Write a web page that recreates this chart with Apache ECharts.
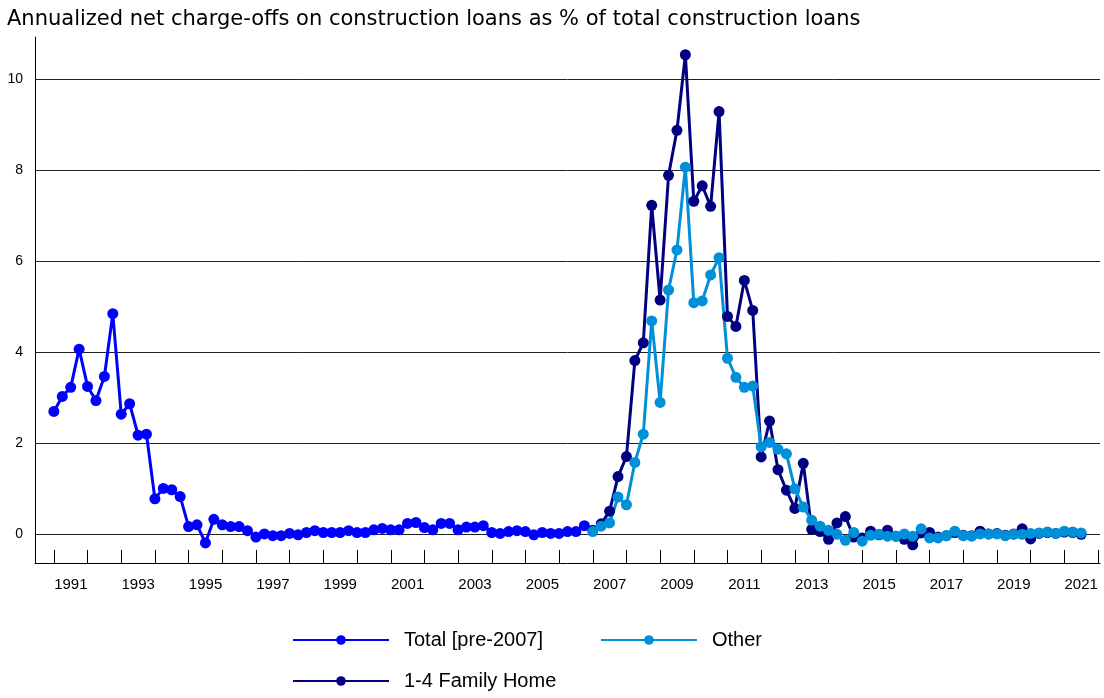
<!DOCTYPE html>
<html>
<head>
<meta charset="utf-8">
<script src="https://cdn.jsdelivr.net/npm/echarts@6/dist/echarts.min.js"></script>
<style>
  html, body { margin: 0; padding: 0; background: #fff; }
  #chart { width: 1104px; height: 698px; }
</style>
</head>
<body>
<div id="chart"></div>
<script>
// Quarterly net charge-off rates, first quarter of 1991 onward
const titleText = 'Annualized net charge-offs on construction loans as % of total construction loans';
const firstYear = 1991;
const yearLabels = ['1991','1992','1993','1994','1995','1996','1997','1998','1999','2000',
  '2001','2002','2003','2004','2005','2006','2007','2008','2009','2010',
  '2011','2012','2013','2014','2015','2016','2017','2018','2019','2020','2021'];
const yTicks = [0, 2, 4, 6, 8, 10];

const totalName = 'Total [pre-2007]';
const otherName = 'Other';
const familyName = '1-4 Family Home';

// 1991Q1 - 2006Q4
const totalValues = [
  2.69, 3.02, 3.22, 4.06,
  3.24, 2.93, 3.46, 4.84,
  2.63, 2.86, 2.17, 2.19,
  0.77, 1.00, 0.97, 0.82,
  0.16, 0.20, -0.20, 0.32,
  0.20, 0.16, 0.16, 0.07,
  -0.07, 0.00, -0.04, -0.04,
  0.01, -0.02, 0.03, 0.07,
  0.03, 0.03, 0.03, 0.07,
  0.03, 0.03, 0.09, 0.12,
  0.09, 0.09, 0.23, 0.25,
  0.14, 0.09, 0.23, 0.23,
  0.09, 0.15, 0.15, 0.18,
  0.03, 0.01, 0.05, 0.07,
  0.05, -0.02, 0.03, 0.01,
  0.01, 0.05, 0.05, 0.18
];

// 2007Q1 - 2021Q3
const splitStartYear = 2007;
const familyValues = [
  0.08, 0.22, 0.50, 1.26,
  1.70, 3.81, 4.20, 7.22,
  5.14, 7.88, 8.87, 10.53,
  7.31, 7.65, 7.20, 9.28,
  4.78, 4.56, 5.57, 4.91,
  1.69, 2.48, 1.41, 0.96,
  0.56, 1.55, 0.10, 0.05,
  -0.12, 0.24, 0.38, -0.07,
  -0.09, 0.06, -0.02, 0.08,
  -0.05, -0.12, -0.24, 0.02,
  0.03, -0.07, -0.04, 0.03,
  -0.03, -0.04, 0.06, 0.00,
  0.01, -0.03, 0.00, 0.11,
  -0.11, 0.01, 0.03, 0.01,
  0.04, 0.03, -0.01
];
const otherValues = [
  0.05, 0.17, 0.24, 0.81,
  0.64, 1.57, 2.19, 4.68,
  2.89, 5.36, 6.24, 8.06,
  5.08, 5.12, 5.69, 6.07,
  3.86, 3.44, 3.22, 3.25,
  1.91, 2.01, 1.86, 1.76,
  0.99, 0.59, 0.30, 0.17,
  0.08, -0.01, -0.14, 0.03,
  -0.16, -0.03, -0.01, -0.05,
  -0.05, 0.00, -0.05, 0.11,
  -0.09, -0.09, -0.04, 0.06,
  -0.04, -0.05, 0.00, 0.00,
  0.00, -0.04, -0.01, -0.01,
  0.01, 0.02, 0.04, 0.01,
  0.06, 0.04, 0.02
];

const colors = { total: '#0000FF', family: '#000080', other: '#0090DA' };
const fontFamily = '"Liberation Sans", Arial, sans-serif';
const titleFont = '"DejaVu Sans", Verdana, sans-serif';

function toPoints(values, startYear) {
  return values.map((v, i) => [startYear + i / 4, v]);
}

function lineSeries(name, values, startYear, color) {
  return {
    name: name,
    type: 'line',
    xAxisIndex: 0,
    yAxisIndex: 0,
    data: toPoints(values, startYear),
    symbol: 'circle',
    symbolSize: 11,
    showAllSymbol: true,
    lineStyle: { color: color, width: 3 },
    itemStyle: { color: color },
    emphasis: { disabled: true },
    z: 3
  };
}

const chart = echarts.init(document.getElementById('chart'), null, { renderer: 'canvas' });

const legendCommon = {
  orient: 'horizontal',
  padding: 0,
  itemWidth: 96,
  itemHeight: 12,
  itemGap: 57,
  selectedMode: false,
  textStyle: { fontSize: 20, color: '#000', fontFamily: fontFamily, padding: [0, 0, 0, 10] }
};

chart.setOption({
  animation: false,
  backgroundColor: '#fff',
  title: {
    text: titleText,
    left: 7,
    top: 9,
    padding: 0,
    textStyle: { fontSize: 21, fontWeight: 'normal', color: '#000', fontFamily: titleFont }
  },
  legend: [
    Object.assign({}, legendCommon, { data: [totalName, otherName], left: 292, top: 630 }),
    Object.assign({}, legendCommon, { data: [familyName], left: 292, top: 671 })
  ],
  grid: [
    { left: 35, right: 4, top: 37, bottom: 135 },
    { left: 54, right: 6, top: 37, bottom: 135 }
  ],
  xAxis: [
    {
      type: 'value', gridIndex: 0, min: 1990.44, max: 2022.06,
      axisLine: { show: true, onZero: false, lineStyle: { color: '#000', width: 1 } },
      axisTick: { show: false }, axisLabel: { show: false }, splitLine: { show: false }
    },
    {
      type: 'category', gridIndex: 1, data: yearLabels, boundaryGap: true,
      axisLine: { show: false },
      axisTick: { show: true, inside: true, length: 13, interval: 0, lineStyle: { color: '#000', width: 1 } },
      axisLabel: { interval: 1, fontSize: 15, color: '#000', margin: 14, fontFamily: fontFamily },
      splitLine: { show: false }
    }
  ],
  yAxis: [
    {
      type: 'value', gridIndex: 0, min: -0.64, max: 10.92,
      axisLine: { show: true, lineStyle: { color: '#000', width: 1 } },
      axisTick: { show: false }, axisLabel: { show: false }, splitLine: { show: false }
    },
    { type: 'value', gridIndex: 1, show: false }
  ],
  series: [
    {
      name: 'grid',
      type: 'line',
      xAxisIndex: 0,
      yAxisIndex: 0,
      data: [],
      silent: true,
      z: 1,
      markLine: {
        silent: true,
        z: 1,
        symbol: ['none', 'none'],
        lineStyle: { color: '#222', width: 1, type: 'solid' },
        label: {
          position: 'start', distance: 12, fontSize: 14, color: '#000',
          fontFamily: fontFamily, formatter: (p) => String(p.value)
        },
        emphasis: { disabled: true },
        data: yTicks.map((v) => ({ yAxis: v }))
      }
    },
    lineSeries(totalName, totalValues, firstYear, colors.total),
    lineSeries(familyName, familyValues, splitStartYear, colors.family),
    lineSeries(otherName, otherValues, splitStartYear, colors.other)
  ]
});
</script>
</body>
</html>
